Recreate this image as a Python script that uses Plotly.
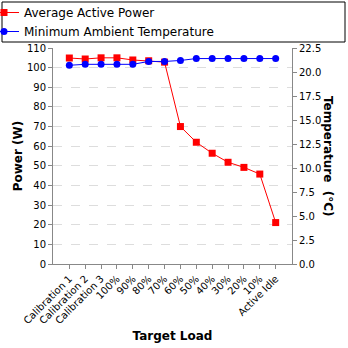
import plotly.graph_objects as go

loads = ["Calibration 1", "Calibration 2", "Calibration 3", "100%", "90%", "80%",
         "70%", "60%", "50%", "40%", "30%", "20%", "10%", "Active Idle"]
power = [104.9, 104.4, 105.0, 105.0, 103.9, 103.5, 102.8, 70.0, 62.0, 56.4,
         51.8, 49.2, 45.8, 21.1]
temperature = [20.7, 20.8, 20.8, 20.8, 20.8, 21.1, 21.1, 21.2, 21.4, 21.4,
               21.4, 21.4, 21.4, 21.4]

fig = go.Figure()
fig.add_trace(go.Scatter(x=loads, y=power, name="Average Active Power",
                         mode="lines+markers",
                         line=dict(color="#ff0000", width=1),
                         marker=dict(symbol="square", size=7, color="#ff0000")))
fig.add_trace(go.Scatter(x=loads, y=temperature, name="Minimum Ambient Temperature",
                         yaxis="y2", mode="lines+markers",
                         line=dict(color="#0000ff", width=1),
                         marker=dict(symbol="circle", size=7, color="#0000ff")))

axis_style = dict(showline=True, linecolor="#888888", linewidth=1,
                  ticks="outside", ticklen=4, tickcolor="#888888",
                  tickfont=dict(size=10, color="black"), zeroline=False,
                  automargin=False)

fig.update_layout(
    width=348, height=348,
    margin=dict(l=53, r=56, t=48, b=84, autoexpand=False),
    paper_bgcolor="white", plot_bgcolor="white",
    font=dict(family="DejaVu Sans", color="black"),
    showlegend=True,
    legend=dict(x=(-16 - 53) / 239, y=(264 + 2) / 216,
                xanchor="left", yanchor="top", font=dict(size=12),
                bgcolor="rgba(0,0,0,0)", borderwidth=0, tracegroupgap=0,
                itemwidth=30),
    xaxis=dict(**axis_style, tickangle=-45, showgrid=False,
               title=dict(text="<b>Target Load</b>", font=dict(size=12), standoff=6)),
    yaxis=dict(**axis_style, range=[0, 110], dtick=10, showgrid=True,
               gridcolor="#dddddd", griddash="dash", gridwidth=1,
               title=dict(text="<b>Power (W)</b>", font=dict(size=12), standoff=1)),
    yaxis2=dict(**axis_style, overlaying="y", side="right", range=[0, 22.5],
                dtick=2.5, tickformat=".1f", showgrid=False),
    shapes=[dict(type="rect", xref="paper", yref="paper",
                 x0=(2 - 53) / 239, x1=(345 - 53) / 239,
                 y0=(264 - 42) / 216, y1=(264 - 2) / 216,
                 line=dict(color="black", width=1))],
    annotations=[dict(text="<b>Temperature  (°C)</b>", textangle=90,
                      xref="paper", yref="paper", x=(328 - 53) / 239, y=0.5,
                      xanchor="center", yanchor="middle", showarrow=False,
                      font=dict(size=12))],
)

fig.write_html("out.html", config={"displayModeBar": False},
               post_script="document.body.style.margin='0';")
